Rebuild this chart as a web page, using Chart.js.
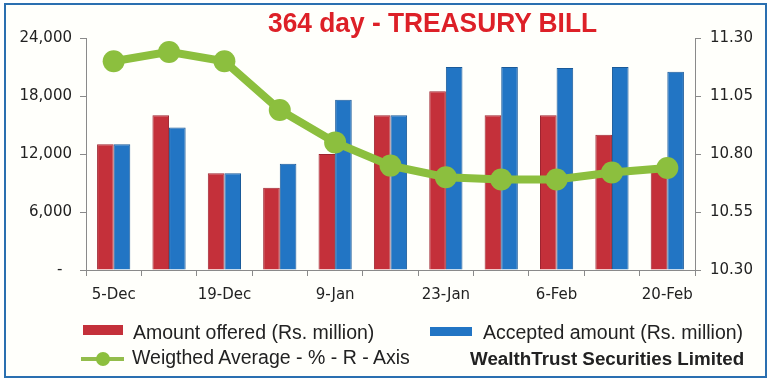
<!DOCTYPE html>
<html>
<head>
<meta charset="utf-8">
<script src="https://cdn.jsdelivr.net/npm/chart.js@4.4.0/dist/chart.umd.min.js"></script>
<style>
  body { margin: 0; background: #fff; }
  #wrap { position: relative; width: 770px; height: 381px; overflow: hidden; }
  #frame { position: absolute; left: 4px; top: 3px; width: 763px; height: 375px; box-sizing: border-box;
           border: 2px solid #2a6fb0; background: #fffffb; }
  #c { position: absolute; left: 0; top: 0; }
  .t { position: absolute; white-space: nowrap; line-height: 1; font-family: "Liberation Sans", Arial, sans-serif; color: #222; }
  .sw { position: absolute; }
</style>
</head>
<body>
<div id="wrap">
  <div id="frame"></div>
  <canvas id="c" width="770" height="381"></canvas>

  <div class="t" id="title" style="left:268px; top:9px; font-size:28px; font-weight:bold; color:#dd2027; transform:scaleX(0.94); transform-origin:left top;">364 day - TREASURY BILL</div>

  <!-- leyenda hecha a mano -->
  <div class="sw" style="left:83px; top:325px; width:40px; height:10px; background:#c4303a;"></div>
  <div class="t" style="left:133px; top:323px; font-size:19.5px;">Amount offered (Rs. million)</div>
  <div class="sw" style="left:430px; top:327px; width:42px; height:9px; background:#2275c4;"></div>
  <div class="t" style="left:483px; top:323px; font-size:19.5px;">Accepted amount (Rs. million)</div>

  <div class="sw" style="left:81px; top:357px; width:43px; height:4px; background:#93bd4c;"></div>
  <div class="sw" style="left:96px; top:352px; width:14px; height:14px; border-radius:50%; background:#8cbf3e;"></div>
  <div class="t" style="left:132px; top:348px; font-size:19.5px;">Weigthed Average - % - R - Axis</div>
  <div class="t" style="left:470px; top:350px; font-size:18.8px; font-weight:bold;">WealthTrust Securities Limited</div>
</div>

<script>
// datos
const fechas = ['5-Dec', '12-Dec', '19-Dec', '2-Jan', '9-Jan', '16-Jan', '23-Jan', '30-Jan', '6-Feb', '13-Feb', '20-Feb'];
const ofrecido = [13000, 16000, 10000, 8500, 12000, 16000, 18500, 16000, 16000, 14000, 10500];
const aceptado = [13000, 14750, 10000, 11000, 17600, 16000, 21000, 21000, 20900, 21000, 20500];
const promedio = [11.20, 11.24, 11.20, 10.99, 10.85, 10.75, 10.70, 10.69, 10.69, 10.72, 10.74];

const tickFont = { family: 'DejaVu Sans', size: 15 };
const axisGray = '#8a8a8a';

new Chart(document.getElementById('c'), {
  data: {
    labels: fechas,
    datasets: [
      {
        type: 'line',
        label: 'Weigthed Average - % - R - Axis',
        data: promedio,
        yAxisID: 'yR',
        borderColor: '#8cbf3e',
        backgroundColor: '#8cbf3e',
        borderWidth: 8,
        pointRadius: 11,
        pointHoverRadius: 11,
        pointBorderWidth: 0,
        tension: 0,
        order: 0
      },
      {
        type: 'bar',
        label: 'Amount offered (Rs. million)',
        data: ofrecido,
        yAxisID: 'yL',
        backgroundColor: '#c4303a',
        borderColor: '#9e2430',
        borderWidth: 1,
        categoryPercentage: 0.6,
        barPercentage: 1,
        order: 1
      },
      {
        type: 'bar',
        label: 'Accepted amount (Rs. million)',
        data: aceptado,
        yAxisID: 'yL',
        backgroundColor: '#2275c4',
        borderColor: '#1a5a99',
        borderWidth: 1,
        categoryPercentage: 0.6,
        barPercentage: 1,
        order: 1
      }
    ]
  },
  options: {
    responsive: false,
    animation: false,
    layout: { padding: { top: 38, left: 0, right: 0, bottom: 0 } },
    plugins: { legend: { display: false }, tooltip: { enabled: false } },
    scales: {
      x: {
        offset: true,
        grid: { drawOnChartArea: false, offset: true, tickLength: 6, color: axisGray },
        border: { color: axisGray },
        ticks: {
          autoSkip: false, maxRotation: 0, padding: 10, color: '#222', font: tickFont,
          callback: function (v, i) { return i % 2 === 0 ? fechas[i] : ''; }
        },
        afterFit: function (s) { s.height = 111; }
      },
      yL: {
        position: 'left',
        min: 0, max: 24000,
        grid: { drawOnChartArea: false, tickLength: 6, color: axisGray },
        border: { color: axisGray },
        ticks: {
          stepSize: 6000, padding: 8, color: '#222', font: tickFont,
          callback: function (v) { return v === 0 ? '-  ' : v.toLocaleString('en-US'); }
        },
        afterFit: function (s) { s.width = 86; }
      },
      yR: {
        position: 'right',
        min: 10.3, max: 11.3,
        grid: { drawOnChartArea: false, tickLength: 6, color: axisGray },
        border: { color: axisGray },
        ticks: {
          stepSize: 0.25, padding: 9, color: '#222', font: tickFont,
          callback: function (v) { return Number(v).toFixed(2); }
        },
        afterFit: function (s) { s.width = 75; }
      }
    }
  }
});
</script>
</body>
</html>
